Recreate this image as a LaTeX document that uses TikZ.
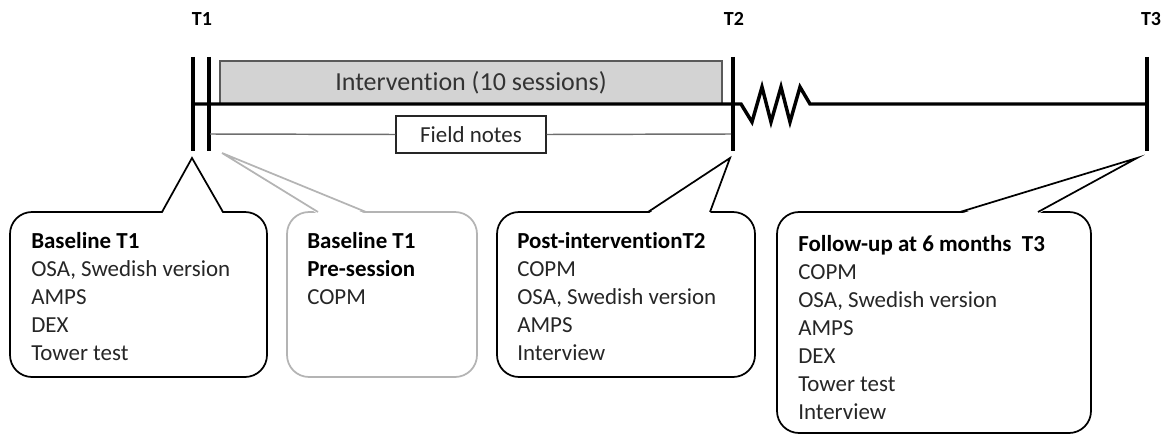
\documentclass[tikz,border=0pt]{standalone}
\usepackage{fontspec}
\setmainfont{Carlito}[Ligatures=NoCommon]
\definecolor{ifill}{HTML}{D3D3D3}
\definecolor{iborder}{HTML}{5A5A5A}
\definecolor{fnline}{HTML}{6E6E6E}
\definecolor{greyco}{HTML}{B4B4B4}
\definecolor{bodytxt}{HTML}{262626}
\begin{document}
\begin{tikzpicture}[x=0.75pt,y=0.75pt,
  tick/.style={line width=2.6pt,black},
  tline/.style={line width=2.6pt,black,line join=miter},
  tlabel/.style={font=\bfseries\fontsize{15}{18}\selectfont,anchor=base,inner sep=0pt},
  cbox/.style={draw=black,line width=1.3pt,rounded corners=16.5pt,fill=white,inner sep=0pt},
  cptr/.style={draw=black,line width=1.3pt,line join=miter},
  gbox/.style={cbox,draw=greyco},
  gptr/.style={cptr,draw=greyco},
  ctext/.style={font=\fontsize{17.2}{21}\selectfont,text=bodytxt,align=left,anchor=north west,inner sep=0pt},
  ibox/.style={draw=iborder,line width=1pt,fill=ifill,inner sep=0pt,minimum width=376.5pt,minimum height=32.25pt},
  itext/.style={font=\fontsize{19.5}{23}\selectfont,text=black!80,anchor=base,inner sep=0pt},
  fnbox/.style={draw=black!85,line width=1pt,fill=white,font=\fontsize{17.2}{21}\selectfont,text=black!85,inner sep=0pt,minimum width=112.5pt,minimum height=27.75pt},
  fnl/.style={draw=fnline,line width=1.1pt}
]
\useasboundingbox (0,0) rectangle (1162,-435);

% labels
\node[tlabel] (t1) at (202,-26) {T1};
\node[tlabel] (t2) at (734,-26) {T2};
\node[tlabel] (t3) at (1151,-26) {T3};

% intervention box
\node[ibox] (int) at (471,-82.5) {};
\node[itext] (inttext) at (471,-90) {Intervention (10 sessions)};

% timeline
\draw[tline] (193,-104) -- (741,-104) -- (752,-122) -- (762,-87) -- (771,-122) -- (781,-87)
  -- (790,-122) -- (800,-87) -- (810,-104) -- (1147,-104);

% ticks
\draw[tick] (193,-57) -- (193,-151);
\draw[tick] (209,-57) -- (209,-151);
\draw[tick] (733,-57) -- (733,-151);
\draw[tick] (1147,-57) -- (1147,-151);

% field notes
\node[fnbox] (fn) at (471,-134.5) {Field notes};
\coordinate (fnL) at (210,-134);
\coordinate (fnR) at (731,-134);
\draw[fnl] (fnL) -- (fn.west);
\draw[fnl] (fn.east) -- (fnR);

% callout 1
\node[cbox,minimum width=192.75pt,minimum height=123.75pt] (b1) at (138.5,-294.5) {};
\coordinate (p1a) at (162,-212); \coordinate (p1t) at (192,-158); \coordinate (p1b) at (223,-212);
\fill[white] (162,-214) -- (p1t) -- (223,-214) -- cycle;
\draw[cptr] (p1a) -- (p1t) -- (p1b);
\node[ctext] (c1) at (31,-226.67) {\rule{0pt}{16pt}\textbf{\color{black}Baseline T1}\\OSA, Swedish version\\AMPS\\DEX\\Tower test};

% callout 2 (grey)
\node[gbox,minimum width=142.5pt,minimum height=123.75pt] (b2) at (382,-294.5) {};
\coordinate (p2a) at (318,-212); \coordinate (p2t) at (222,-153); \coordinate (p2b) at (366,-212);
\fill[white] (318,-214) -- (p2t) -- (366,-214) -- cycle;
\draw[gptr] (p2a) -- (p2t) -- (p2b);
\node[ctext] (c2) at (307,-226.67) {\rule{0pt}{16pt}\textbf{\color{black}Baseline T1}\\\textbf{\color{black}Pre-session}\\COPM};

% callout 3
\node[cbox,minimum width=193.5pt,minimum height=123.75pt] (b3) at (626,-294.5) {};
\coordinate (p3a) at (648,-212); \coordinate (p3t) at (730,-158); \coordinate (p3b) at (710,-212);
\fill[white] (648,-214) -- (p3t) -- (710,-214) -- cycle;
\draw[cptr] (p3a) -- (p3t) -- (p3b);
\node[ctext] (c3) at (517,-226.67) {\rule{0pt}{16pt}\textbf{\color{black}Post-interventionT2}\\COPM\\OSA, Swedish version\\AMPS\\Interview};

% callout 4
\node[cbox,minimum width=235.5pt,minimum height=165.75pt] (b4) at (934,-322.5) {};
\coordinate (p4a) at (960,-212); \coordinate (p4t) at (1137,-158); \coordinate (p4b) at (1038,-212);
\fill[white] (960,-214) -- (p4t) -- (1038,-214) -- cycle;
\draw[cptr] (p4a) -- (p4t) -- (p4b);
\node[ctext] (c4) at (798,-229.67) {\rule{0pt}{16pt}\textbf{\color{black}Follow-up at 6 months\ \ T3}\\COPM\\OSA, Swedish version\\AMPS\\DEX\\Tower test\\Interview};
\end{tikzpicture}
\end{document}
